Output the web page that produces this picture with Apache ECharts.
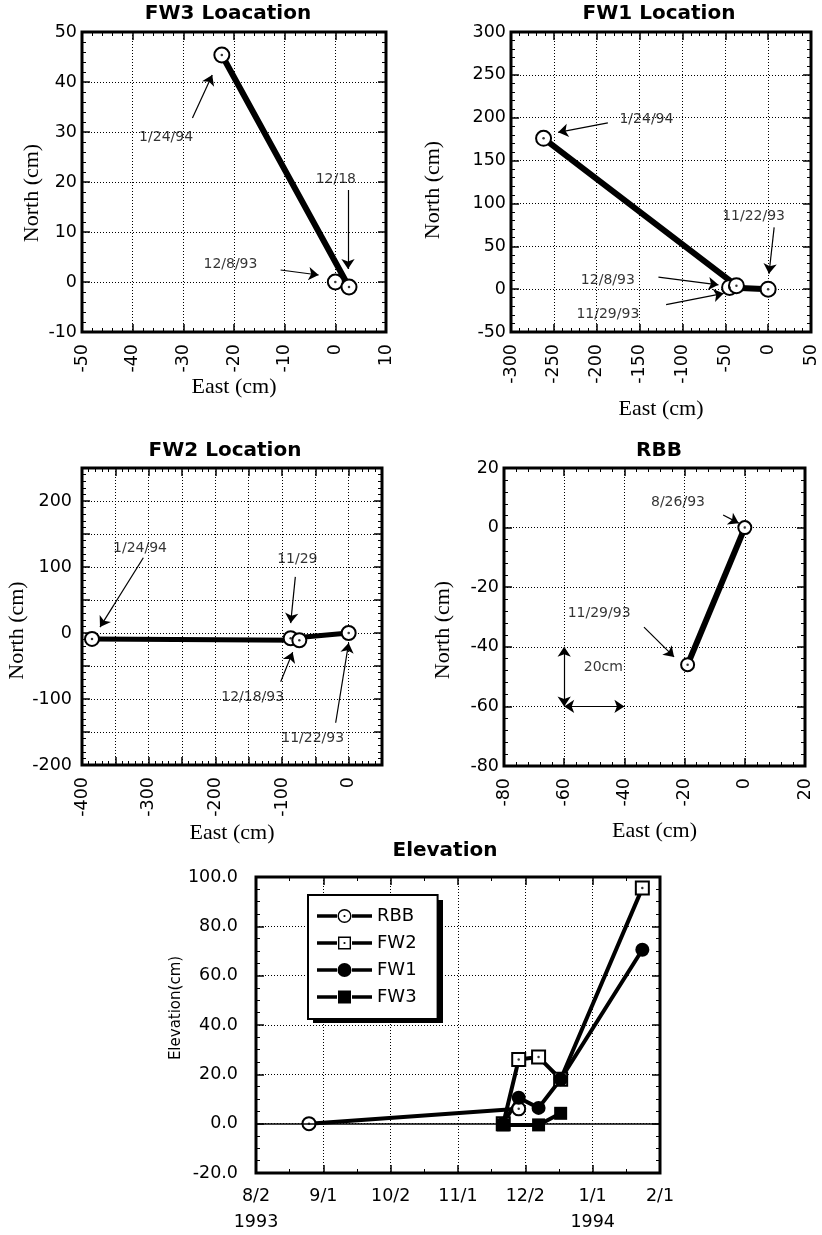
<!DOCTYPE html>
<html lang="en" style="height: 100%">
  <head>
    <meta charset="utf-8" />
  </head>
  <body style="height: 100%; margin: 0; background: #fff">
    <div id="container" style="width: 822px; height: 1235px"></div>

    <script
      type="text/javascript"
      src="https://cdn.jsdelivr.net/npm/echarts/dist/echarts.min.js"
    ></script>

    <script type="text/javascript">
      // ---- location data (cm), points in time order ----
      var fw3Dates = ["12/8/93", "12/18/93", "1/24/94"];
      var fw3East = [0, 2.7, -22.4];
      var fw3North = [0, -1, 45.4];

      var fw1Dates = ["11/22/93", "11/29/93", "12/8/93", "1/24/94"];
      var fw1East = [0, -45, -37, -262];
      var fw1North = [0, 2, 4, 176];

      var fw2Dates = ["11/22/93", "11/29/93", "12/18/93", "1/24/94"];
      var fw2East = [0, -87, -74, -385];
      var fw2North = [0, -8, -11, -9];

      var rbbDates = ["8/26/93", "11/29/93"];
      var rbbEast = [0, -19];
      var rbbNorth = [0, -46];

      // ---- elevation data (cm) ----
      var elevStart = "8/2/93";
      var rbbElevDates = ["8/26/93", "11/29/93"];
      var rbbElev = [0, 6];
      var fw2ElevDates = ["11/22/93", "11/29/93", "12/8/93", "12/18/93", "1/24/94"];
      var fw2Elev = [0, 26, 27, 18, 95.5];
      var fw1ElevDates = ["11/22/93", "11/29/93", "12/8/93", "12/18/93", "1/24/94"];
      var fw1Elev = [0, 10.5, 6.4, 18, 70.5];
      var fw3ElevDates = ["11/22/93", "12/8/93", "12/18/93"];
      var fw3Elev = [-0.5, -0.5, 4.2];

      var elevTickLabels = ["8/2\n1993", "9/1", "10/2", "11/1", "12/2", "1/1\n1994", "2/1"];

      // ---- annotations (text position and arrow, in axis units) ----
      var fw3Notes = [
        { text: "1/24/94", at: [-33.4, 29], from: [-28.2, 32.8], to: [-24.3, 41.4] },
        { text: "12/18", at: [0.1, 20.6], from: [2.5, 18.4], to: [2.5, 2.6] },
        { text: "12/8/93", at: [-20.7, 3.6], from: [-10.8, 2.4], to: [-3.3, 1.4] },
      ];
      var fw1Notes = [
        { text: "1/24/94", at: [-142, 198], from: [-187, 194], to: [-245, 183] },
        { text: "11/22/93", at: [-17, 85], from: [7, 72], to: [1, 18] },
        { text: "12/8/93", at: [-187, 10], from: [-128, 14], to: [-58, 5] },
        { text: "11/29/93", at: [-187, -30], from: [-119, -18], to: [-52, -5] },
      ];
      var fw2Notes = [
        { text: "1/24/94", at: [-313, 129], from: [-308, 114], to: [-373, 9] },
        { text: "11/29", at: [-77, 111], from: [-80, 85], to: [-87, 15] },
        { text: "12/18/93", at: [-144, -98], from: [-102, -74], to: [-84, -29] },
        { text: "11/22/93", at: [-54, -159], from: [-19.5, -136], to: [0, -15] },
      ];
      var rbbNotes = [
        { text: "8/26/93", at: [-22.2, 8.6], from: [-7.2, 4.2], to: [-2, 1.5] },
        { text: "11/29/93", at: [-48.4, -28.7], from: [-33.5, -33.4], to: [-23.5, -43.4] },
        { text: "20cm", at: [-47, -47] },
      ];
      var rbbScaleBars = [
        [[-60, -40], [-60, -60]],
        [[-60, -60], [-40, -60]],
      ];

      function dayOf(s) {
        var p = s.split("/");
        return Date.UTC(1900 + Number(p[2]), Number(p[0]) - 1, Number(p[1])) / 864e5;
      }
      var day0 = dayOf(elevStart);

      var tickFont = { fontFamily: "DejaVu Sans", fontSize: 17.5, color: "#000" };
      var nameFont = { fontFamily: "Liberation Serif", fontSize: 22, color: "#000" };
      var noteFont = { fontFamily: "DejaVu Sans", fontSize: 14, color: "#000" };

      var grids = [
        { left: 82, top: 32, width: 304, height: 300 }, // FW3
        { left: 511, top: 32, width: 300, height: 300 }, // FW1
        { left: 82, top: 468, width: 300, height: 297 }, // FW2
        { left: 504, top: 468, width: 301, height: 298 }, // RBB
        { left: 256, top: 877, width: 404, height: 301 }, // Elevation
      ];
      grids.forEach(function (g) {
        g.show = true;
        g.borderColor = "#000";
        g.borderWidth = 3;
        g.containLabel = false;
      });

      var xAxes = [];
      var yAxes = [];

      // one labelled axis plus a mirrored one with ticks only
      function addAxis(list, dim, g, min, max, interval, minor, extra) {
        var base = {
          type: "value",
          gridIndex: g,
          min: min,
          max: max,
          interval: interval,
          axisLine: { show: false, onZero: false },
          axisTick: { inside: true, length: 8, lineStyle: { color: "#000", width: 1.5 } },
          minorTick: { show: true, splitNumber: minor, length: 4, lineStyle: { color: "#000", width: 1 } },
          splitLine: { show: false },
        };
        var main = Object.assign({}, base, {
          position: dim === "x" ? "bottom" : "left",
          splitLine: { show: true, lineStyle: { color: "#000", type: [1, 2], width: 1 } },
        });
        main = Object.assign(main, extra);
        main.axisLabel = Object.assign({}, tickFont, extra.axisLabel);
        var mirror = Object.assign({}, base, {
          position: dim === "x" ? "top" : "right",
          axisLabel: { show: false },
        });
        list.push(main, mirror);
      }

      // FW3
      addAxis(xAxes, "x", 0, -50, 10, 10, 5, {
        name: "East (cm)", nameLocation: "middle", nameGap: 41, nameTextStyle: nameFont,
        axisLabel: { rotate: 90, margin: 12 },
      });
      addAxis(yAxes, "y", 0, -10, 50, 10, 5, {
        name: "North (cm)", nameLocation: "middle", nameGap: 39,
        nameTextStyle: Object.assign({ padding: [0, 22, 0, 0] }, nameFont),
        axisLabel: { margin: 5 },
      });
      // FW1
      addAxis(xAxes, "x", 1, -300, 50, 50, 5, {
        name: "East (cm)", nameLocation: "middle", nameGap: 66, nameTextStyle: nameFont,
        axisLabel: { rotate: 90, margin: 12 },
      });
      addAxis(yAxes, "y", 1, -50, 300, 50, 5, {
        name: "North (cm)", nameLocation: "middle", nameGap: 67,
        nameTextStyle: Object.assign({ padding: [0, 16, 0, 0] }, nameFont),
        axisLabel: { margin: 5 },
      });
      // FW2
      addAxis(xAxes, "x", 2, -400, 50, 50, 5, {
        name: "East (cm)", nameLocation: "middle", nameGap: 57, nameTextStyle: nameFont,
        axisLabel: {
          rotate: 90, margin: 12,
          formatter: function (v) { return v % 100 === 0 ? String(v) : ""; },
        },
      });
      addAxis(yAxes, "y", 2, -200, 250, 50, 5, {
        name: "North (cm)", nameLocation: "middle", nameGap: 49,
        nameTextStyle: Object.assign({ padding: [0, 28, 0, 0] }, nameFont),
        axisLabel: {
          margin: 10,
          formatter: function (v) { return v % 100 === 0 ? String(v) : ""; },
        },
      });
      // RBB
      addAxis(xAxes, "x", 3, -80, 20, 20, 5, {
        name: "East (cm)", nameLocation: "middle", nameGap: 54, nameTextStyle: nameFont,
        axisLabel: { rotate: 90, margin: 12 },
      });
      addAxis(yAxes, "y", 3, -80, 20, 20, 5, {
        name: "North (cm)", nameLocation: "middle", nameGap: 50,
        nameTextStyle: Object.assign({ padding: [0, 26, 0, 0] }, nameFont),
        axisLabel: { margin: 5 },
      });
      // Elevation
      addAxis(xAxes, "x", 4, 0, 183, 30.5, 2, {
        axisLabel: {
          margin: 10, lineHeight: 26,
          formatter: function (v) { return elevTickLabels[Math.round(v / 30.5)]; },
        },
      });
      addAxis(yAxes, "y", 4, -20, 100, 20, 4, {
        name: "Elevation(cm)", nameLocation: "middle", nameGap: 36,
        nameTextStyle: { fontFamily: "DejaVu Sans", fontSize: 15, color: "#000", padding: [0, 0, 0, 34] },
        axisLabel: { margin: 18, formatter: function (v) { return v.toFixed(1); } },
      });

      var series = [];

      function addTrack(g, east, north, lineWidth, size) {
        var pts = east.map(function (e, i) { return [e, north[i]]; });
        series.push({
          type: "line",
          xAxisIndex: 2 * g, yAxisIndex: 2 * g,
          data: pts,
          symbol: "emptyCircle", symbolSize: size,
          lineStyle: { color: "#000", width: lineWidth },
          itemStyle: { color: "#000", borderWidth: 1.5 },
          z: 3,
        });
        series.push({
          type: "scatter",
          xAxisIndex: 2 * g, yAxisIndex: 2 * g,
          data: pts,
          symbol: "circle", symbolSize: 2.5,
          itemStyle: { color: "#000" },
          z: 4,
        });
      }

      function addNotes(g, notes, bars) {
        var lines = [];
        notes.forEach(function (n) {
          if (n.from) lines.push([{ coord: n.from, symbol: "none" }, { coord: n.to, symbol: "arrow" }]);
        });
        (bars || []).forEach(function (b) {
          lines.push([{ coord: b[0], symbol: "arrow" }, { coord: b[1], symbol: "arrow" }]);
        });
        series.push({
          type: "scatter",
          xAxisIndex: 2 * g, yAxisIndex: 2 * g,
          symbolSize: 1,
          silent: true,
          itemStyle: { color: "rgba(0,0,0,0)" },
          label: Object.assign({ show: true, position: "inside" }, noteFont),
          data: notes.map(function (n) {
            return { value: n.at, label: { formatter: n.text } };
          }),
          markLine: {
            silent: true,
            symbolSize: 10,
            label: { show: false },
            lineStyle: { color: "#000", type: "solid", width: 1.2 },
            data: lines,
          },
          z: 5,
        });
      }

      addTrack(0, fw3East, fw3North, 6, 15);
      addNotes(0, fw3Notes);
      addTrack(1, fw1East, fw1North, 6, 15);
      addNotes(1, fw1Notes);
      addTrack(2, fw2East, fw2North, 5, 14);
      addNotes(2, fw2Notes);
      addTrack(3, rbbEast, rbbNorth, 6, 13);
      addNotes(3, rbbNotes, rbbScaleBars);

      function elevPoints(dates, vals) {
        return dates.map(function (d, i) { return [dayOf(d) - day0, vals[i]]; });
      }
      function addElev(name, dates, vals, symbol, size, dotted) {
        var pts = elevPoints(dates, vals);
        series.push({
          type: "line",
          name: name,
          xAxisIndex: 8, yAxisIndex: 8,
          data: pts,
          symbol: symbol, symbolSize: size,
          lineStyle: { color: "#000", width: 4 },
          itemStyle: { color: "#000", borderWidth: 1.5 },
          z: 3,
        });
        if (dotted) {
          series.push({
            type: "scatter",
            xAxisIndex: 8, yAxisIndex: 8,
            data: pts,
            symbol: "circle", symbolSize: 2.5,
            itemStyle: { color: "#000" },
            z: 4,
          });
        }
      }
      addElev("RBB", rbbElevDates, rbbElev, "emptyCircle", 13, true);
      addElev("FW2", fw2ElevDates, fw2Elev, "emptyRect", 13, true);
      addElev("FW1", fw1ElevDates, fw1Elev, "circle", 14, false);
      addElev("FW3", fw3ElevDates, fw3Elev, "rect", 13, false);
      // zero line
      series[series.length - 1].markLine = {
        silent: true,
        symbol: ["none", "none"],
        label: { show: false },
        lineStyle: { color: "#000", type: "solid", width: 1.5 },
        data: [{ yAxis: 0 }],
      };

      // legend icons: 55 x 14 box, line + marker
      var legLines = "M0 5.3H20V8.7H0Z M35 5.3H55V8.7H35Z ";
      var dotPath = "M27.5 5.9A1.1 1.1 0 1 1 27.5 8.1A1.1 1.1 0 1 1 27.5 5.9Z";
      var icons = {
        RBB: "path://" + legLines +
          "M27.5 0A7 7 0 1 1 27.5 14A7 7 0 1 1 27.5 0Z " +
          "M27.5 1.4A5.6 5.6 0 1 0 27.5 12.6A5.6 5.6 0 1 0 27.5 1.4Z " + dotPath,
        FW2: "path://" + legLines +
          "M21 0.5H34V13.5H21Z M22.4 1.9V12.1H32.6V1.9Z " + dotPath,
        FW1: "path://" + legLines + "M27.5 0A7 7 0 1 1 27.5 14A7 7 0 1 1 27.5 0Z",
        FW3: "path://" + legLines + "M21 0.5H34V13.5H21Z",
      };

      var titleFont = { fontFamily: "DejaVu Sans", fontSize: 20, fontWeight: "bold", color: "#000" };
      function title(text, cx, top) {
        return { text: text, left: cx, top: top, textAlign: "center", padding: 0, textStyle: titleFont };
      }

      var option = {
        animation: false,
        backgroundColor: "#fff",
        title: [
          title("FW3 Loacation", 228, 4),
          title("FW1 Location", 659, 4),
          title("FW2 Location", 225, 441),
          title("RBB", 659, 441),
          title("Elevation", 445, 841),
        ],
        legend: {
          orient: "vertical",
          left: 308,
          top: 895,
          padding: [12, 21, 13, 9],
          itemWidth: 55,
          itemHeight: 14,
          itemGap: 9,
          selectedMode: false,
          textStyle: { fontFamily: "DejaVu Sans", fontSize: 18, color: "#000" },
          backgroundColor: "#fff",
          borderColor: "#000",
          borderWidth: 2,
          z: 10,
          data: ["RBB", "FW2", "FW1", "FW3"].map(function (n) {
            return { name: n, icon: icons[n] };
          }),
        },
        // drop shadow behind the legend box
        graphic: [
          {
            type: "rect",
            z: 9,
            shape: { x: 313, y: 900, width: 130, height: 123 },
            style: { fill: "#000" },
          },
        ],
        grid: grids,
        xAxis: xAxes,
        yAxis: yAxes,
        series: series,
      };

      var myChart = echarts.init(document.getElementById("container"), null, {
        renderer: "canvas",
      });
      myChart.setOption(option);
    </script>
  </body>
</html>
